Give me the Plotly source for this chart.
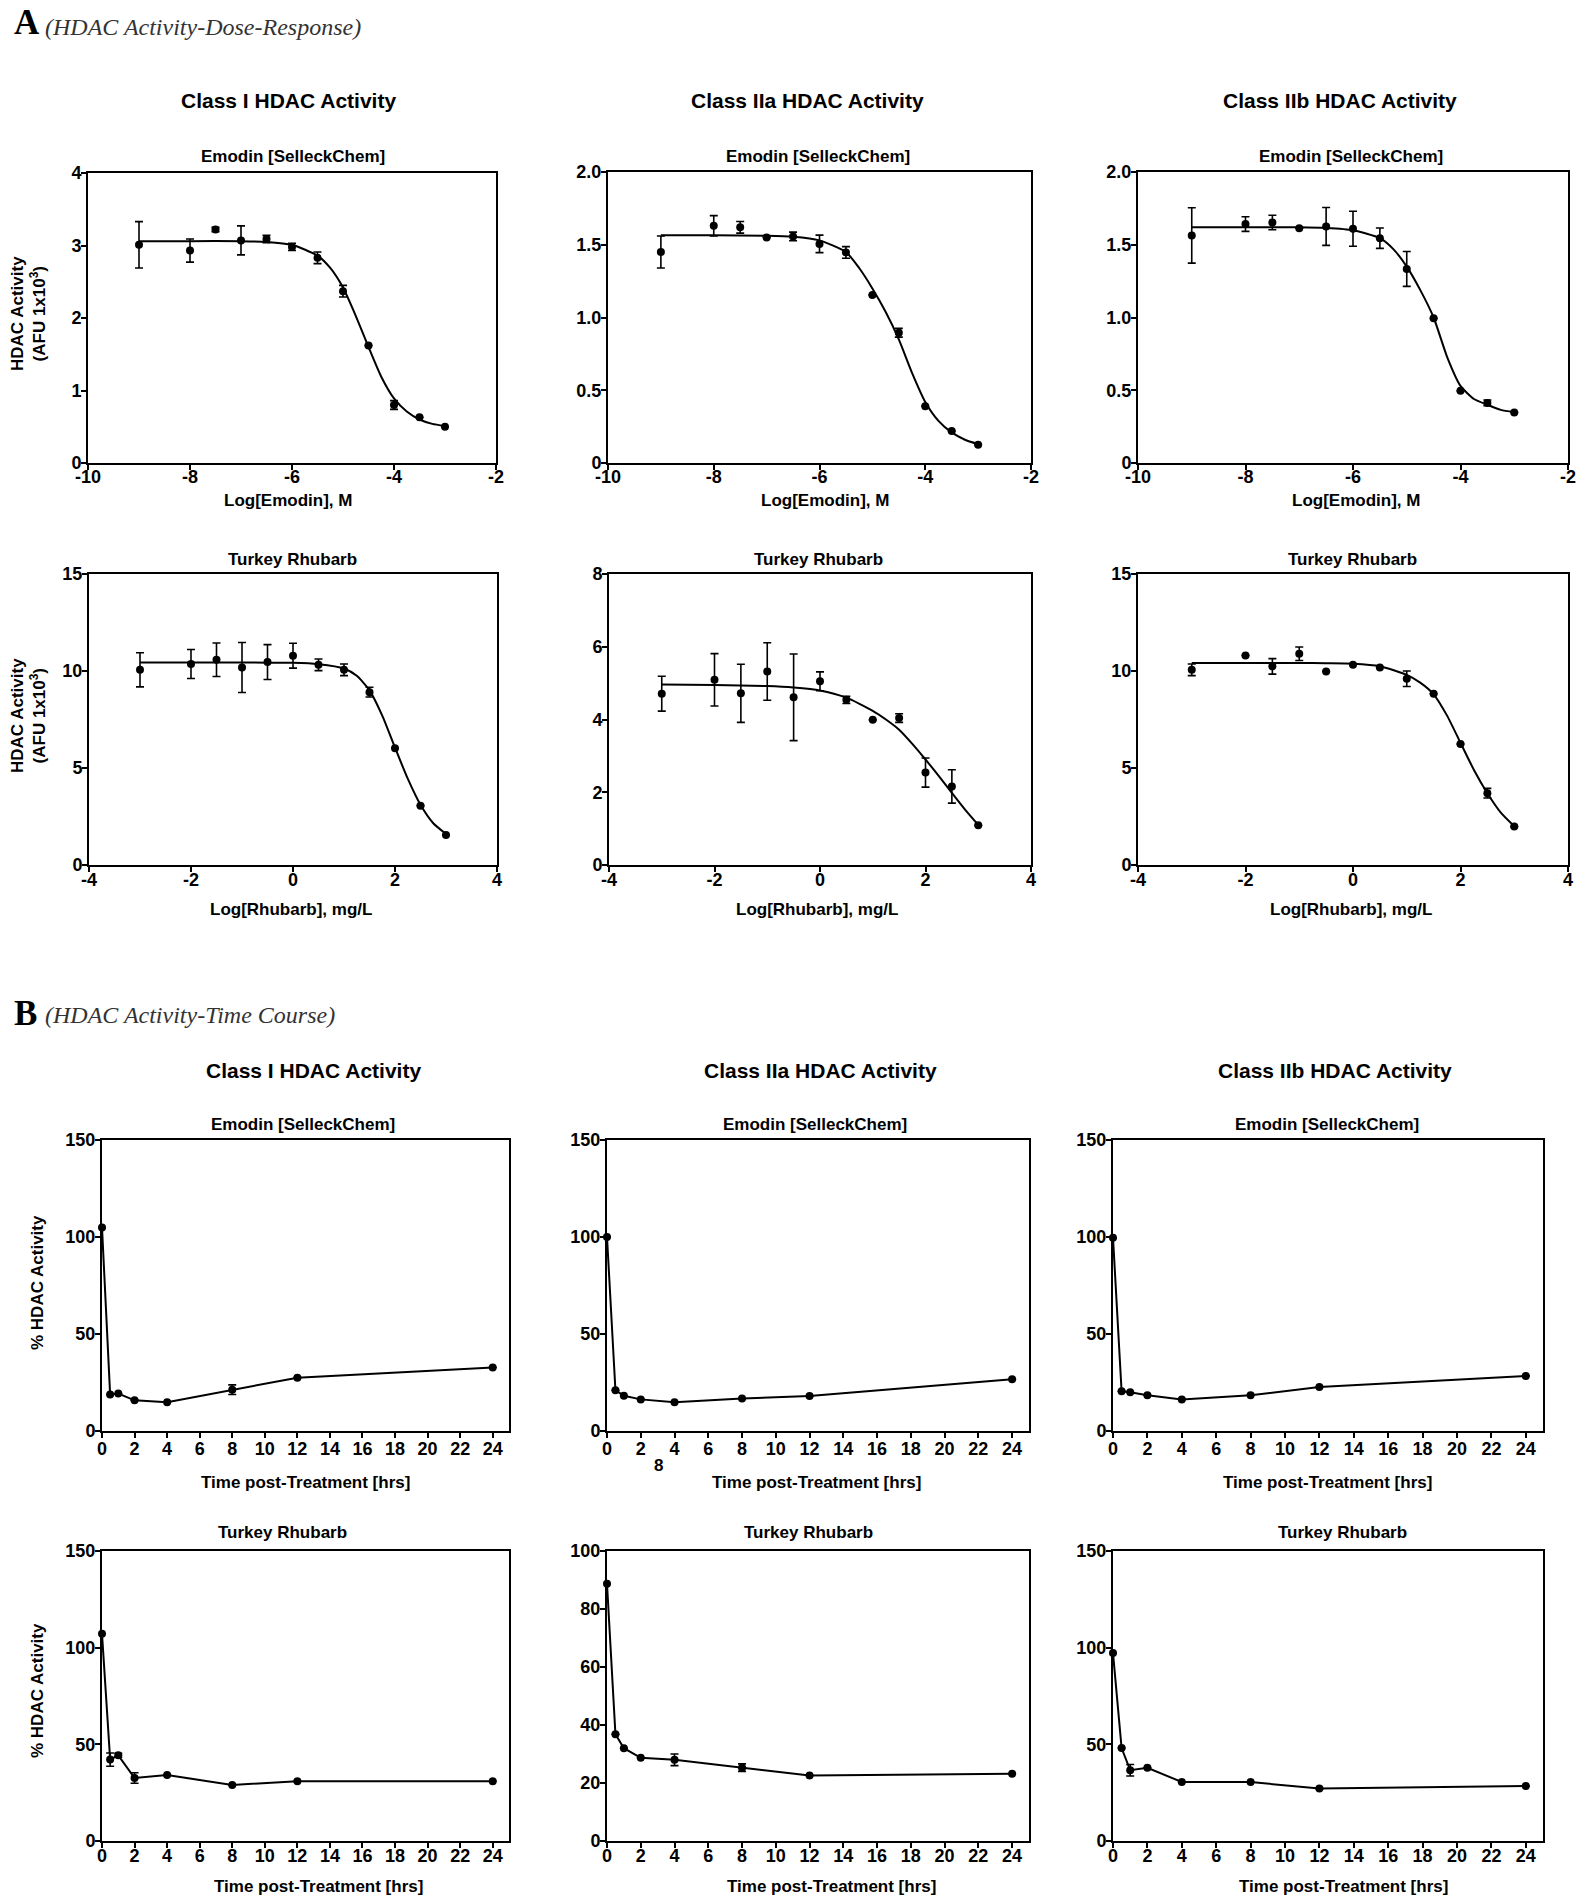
import plotly.graph_objects as go

W, H = 1590, 1903
OFF = 0  # page body margin is removed in post_script below

# ---------------- Section A : dose-response ----------------
emodin_logM = [-9, -8, -7.5, -7, -6.5, -6, -5.5, -5, -4.5, -4, -3.5, -3]
rhubarb_log = [-3, -2, -1.5, -1, -0.5, 0, 0.5, 1, 1.5, 2, 2.5, 3]

classI_emodin = [3.01, 2.93, 3.22, 3.07, 3.09, 2.98, 2.83, 2.37, 1.62, 0.80, 0.63, 0.50]
classI_emodin_err = [0.32, 0.16, 0.03, 0.20, 0.05, 0.05, 0.08, 0.08, 0.0, 0.06, 0.0, 0.0]
classIIa_emodin = [1.45, 1.63, 1.62, 1.55, 1.557, 1.506, 1.447, 1.155, 0.895, 0.39, 0.22, 0.126]
classIIa_emodin_err = [0.11, 0.07, 0.04, 0.0, 0.03, 0.06, 0.04, 0.0, 0.03, 0.0, 0.0, 0.0]
classIIb_emodin = [1.564, 1.642, 1.653, 1.614, 1.626, 1.61, 1.545, 1.334, 0.994, 0.496, 0.413, 0.347]
classIIb_emodin_err = [0.19, 0.05, 0.05, 0.0, 0.13, 0.12, 0.07, 0.12, 0.0, 0.0, 0.02, 0.0]

classI_rhubarb = [10.06, 10.36, 10.58, 10.18, 10.46, 10.79, 10.32, 10.06, 8.91, 6.02, 3.06, 1.55]
classI_rhubarb_err = [0.88, 0.75, 0.86, 1.29, 0.90, 0.64, 0.30, 0.30, 0.25, 0.0, 0.0, 0.0]
classIIa_rhubarb = [4.71, 5.09, 4.72, 5.32, 4.61, 5.05, 4.54, 3.99, 4.04, 2.54, 2.16, 1.09]
classIIa_rhubarb_err = [0.48, 0.72, 0.80, 0.79, 1.19, 0.26, 0.10, 0.0, 0.12, 0.40, 0.46, 0.0]
classIIb_rhubarb = [10.06, 10.80, 10.24, 10.89, 9.98, 10.32, 10.18, 9.60, 8.83, 6.24, 3.70, 1.98]
classIIb_rhubarb_err = [0.30, 0.0, 0.40, 0.35, 0.0, 0.0, 0.0, 0.40, 0.0, 0.0, 0.25, 0.0]

# fitted curves
fit_emodin_x = [-9, -8, -7, -6.5, -6, -5.5, -5.25, -5, -4.75, -4.5, -4.25, -4, -3.75, -3.5, -3.25, -3]
fit_classI_emodin = [3.06, 3.06, 3.06, 3.05, 3.01, 2.86, 2.69, 2.42, 2.03, 1.60, 1.19, 0.89, 0.71, 0.60, 0.54, 0.51]
fit_classIIa_emodin = [1.565, 1.565, 1.562, 1.555, 1.53, 1.45, 1.34, 1.20, 1.04, 0.85, 0.62, 0.42, 0.29, 0.21, 0.16, 0.13]
fit_classIIb_emodin = [1.62, 1.62, 1.62, 1.615, 1.60, 1.545, 1.47, 1.35, 1.19, 1.00, 0.73, 0.53, 0.44, 0.40, 0.365, 0.35]

fit_rhubarb_x = [-3, -2, -1, -0.5, 0, 0.5, 1, 1.25, 1.5, 1.75, 2, 2.25, 2.5, 2.75, 3]
fit_classI_rhubarb = [10.44, 10.44, 10.44, 10.43, 10.42, 10.35, 10.13, 9.75, 9.0, 7.7, 6.05, 4.45, 3.1, 2.15, 1.6]
fit_classIIa_rhubarb = [4.96, 4.95, 4.92, 4.88, 4.80, 4.60, 4.24, 4.0, 3.72, 3.33, 2.90, 2.45, 1.98, 1.52, 1.10]
fit_classIIb_rhubarb = [10.41, 10.41, 10.41, 10.40, 10.38, 10.25, 9.8, 9.4, 8.8, 7.7, 6.3, 4.9, 3.7, 2.7, 2.0]

# ---------------- Section B : time course ----------------
hours = [0, 0.5, 1, 2, 4, 8, 12, 24]
tc_classI_emodin = [104.9, 18.8, 19.3, 15.8, 14.8, 21.3, 27.5, 32.7]
tc_classI_emodin_err = [0, 0, 0, 0, 0, 2.5, 0, 0]
tc_classIIa_emodin = [100.0, 21.0, 18.2, 16.3, 14.8, 16.7, 18.1, 26.7]
tc_classIIa_emodin_err = [0, 0, 0, 0, 0, 0, 0, 0]
tc_classIIb_emodin = [99.6, 20.5, 20.0, 18.4, 16.2, 18.4, 22.7, 28.4]
tc_classIIb_emodin_err = [0, 0, 0, 0, 0, 0, 0, 0]
tc_classI_rhubarb = [107.2, 42.1, 44.3, 32.6, 34.1, 29.0, 30.9, 30.9]
tc_classI_rhubarb_err = [0, 3.4, 1.0, 2.7, 0, 0, 0, 0]
tc_classIIa_rhubarb = [88.7, 36.8, 32.0, 28.7, 28.0, 25.3, 22.6, 23.2]
tc_classIIa_rhubarb_err = [0, 0, 0, 0, 2.0, 1.3, 0, 0]
tc_classIIb_rhubarb = [97.2, 48.1, 36.6, 37.9, 30.5, 30.5, 27.1, 28.4]
tc_classIIb_rhubarb_err = [0, 0, 3.0, 0, 0, 0, 0, 0]

# tick labels
x_ticks_emodin = [-10, -8, -6, -4, -2]
x_ticks_rhubarb = [-4, -2, 0, 2, 4]
x_ticks_time = [0, 2, 4, 6, 8, 10, 12, 14, 16, 18, 20, 22, 24]
y_ticks_4 = [0, 1, 2, 3, 4]
y_ticks_2 = [0, 0.5, 1, 1.5, 2]
y_ticklabels_2 = ["0", "0.5", "1.0", "1.5", "2.0"]
y_ticks_15 = [0, 5, 10, 15]
y_ticks_8 = [0, 2, 4, 6, 8]
y_ticks_150 = [0, 50, 100, 150]
y_ticks_100 = [0, 20, 40, 60, 80, 100]

class_titles = ["Class I HDAC Activity", "Class IIa HDAC Activity", "Class IIb HDAC Activity"]
sub_emodin = "Emodin [SelleckChem]"
sub_rhubarb = "Turkey Rhubarb"
xt_emodin = "Log[Emodin], M"
xt_rhubarb = "Log[Rhubarb], mg/L"
xt_time = "Time post-Treatment [hrs]"
yt_afu = "HDAC Activity<br>(AFU 1x10<sup>3</sup>)"
yt_pct = "% HDAC Activity"

SANS = "Liberation Sans"
SERIF = "Liberation Serif"


def px(x):
    return (x - OFF) / W


def py(y):
    return 1 - (y - OFF) / H


def xd(a, b):
    return [px(a), px(b)]


def yd(top, bottom):
    return [py(bottom), py(top)]


def lab(vals):
    return [("%g" % v) for v in vals]


panels = [
    # section A
    dict(x=emodin_logM, y=classI_emodin, e=classI_emodin_err, fx=fit_emodin_x, fy=fit_classI_emodin,
         dx=(88, 496), dy=(173, 463), xr=[-10, -2], xt=x_ticks_emodin, yr=[0, 4],
         yt=y_ticks_4, ytt=lab(y_ticks_4), so=-9),
    dict(x=emodin_logM, y=classIIa_emodin, e=classIIa_emodin_err, fx=fit_emodin_x, fy=fit_classIIa_emodin,
         dx=(608, 1031), dy=(172, 463), xr=[-10, -2], xt=x_ticks_emodin, yr=[0, 2],
         yt=y_ticks_2, ytt=y_ticklabels_2, so=-9),
    dict(x=emodin_logM, y=classIIb_emodin, e=classIIb_emodin_err, fx=fit_emodin_x, fy=fit_classIIb_emodin,
         dx=(1138, 1568), dy=(172, 463), xr=[-10, -2], xt=x_ticks_emodin, yr=[0, 2],
         yt=y_ticks_2, ytt=y_ticklabels_2, so=-9),
    dict(x=rhubarb_log, y=classI_rhubarb, e=classI_rhubarb_err, fx=fit_rhubarb_x, fy=fit_classI_rhubarb,
         dx=(89, 497), dy=(574, 865), xr=[-4, 4], xt=x_ticks_rhubarb, yr=[0, 15],
         yt=y_ticks_15, ytt=lab(y_ticks_15), so=-8),
    dict(x=rhubarb_log, y=classIIa_rhubarb, e=classIIa_rhubarb_err, fx=fit_rhubarb_x, fy=fit_classIIa_rhubarb,
         dx=(609, 1031), dy=(574, 865), xr=[-4, 4], xt=x_ticks_rhubarb, yr=[0, 8],
         yt=y_ticks_8, ytt=lab(y_ticks_8), so=-8),
    dict(x=rhubarb_log, y=classIIb_rhubarb, e=classIIb_rhubarb_err, fx=fit_rhubarb_x, fy=fit_classIIb_rhubarb,
         dx=(1138, 1568), dy=(574, 865), xr=[-4, 4], xt=x_ticks_rhubarb, yr=[0, 15],
         yt=y_ticks_15, ytt=lab(y_ticks_15), so=-8),
    # section B
    dict(x=hours, y=tc_classI_emodin, e=tc_classI_emodin_err, dx=(102, 509), dy=(1140, 1431),
         xr=[0, 25], xt=x_ticks_time, yr=[0, 150], yt=y_ticks_150, ytt=lab(y_ticks_150), so=-5),
    dict(x=hours, y=tc_classIIa_emodin, e=tc_classIIa_emodin_err, dx=(607, 1029), dy=(1140, 1431),
         xr=[0, 25], xt=x_ticks_time, yr=[0, 150], yt=y_ticks_150, ytt=lab(y_ticks_150), so=-5),
    dict(x=hours, y=tc_classIIb_emodin, e=tc_classIIb_emodin_err, dx=(1113, 1543), dy=(1140, 1431),
         xr=[0, 25], xt=x_ticks_time, yr=[0, 150], yt=y_ticks_150, ytt=lab(y_ticks_150), so=-5),
    dict(x=hours, y=tc_classI_rhubarb, e=tc_classI_rhubarb_err, dx=(102, 509), dy=(1551, 1841),
         xr=[0, 25], xt=x_ticks_time, yr=[0, 150], yt=y_ticks_150, ytt=lab(y_ticks_150), so=-8),
    dict(x=hours, y=tc_classIIa_rhubarb, e=tc_classIIa_rhubarb_err, dx=(607, 1029), dy=(1551, 1841),
         xr=[0, 25], xt=x_ticks_time, yr=[0, 100], yt=y_ticks_100, ytt=lab(y_ticks_100), so=-8),
    dict(x=hours, y=tc_classIIb_rhubarb, e=tc_classIIb_rhubarb_err, dx=(1113, 1543), dy=(1551, 1841),
         xr=[0, 25], xt=x_ticks_time, yr=[0, 150], yt=y_ticks_150, ytt=lab(y_ticks_150), so=-8),
]

fig = go.Figure()
tickfont = dict(family=SANS, size=18, color="black", weight="bold")
layout_axes = {}

for i, p in enumerate(panels):
    n = i + 1
    xa = "x" if n == 1 else f"x{n}"
    ya = "y" if n == 1 else f"y{n}"
    err = dict(type="data", array=p["e"], visible=True, color="black", thickness=1.6, width=4)
    if "fx" in p:
        fig.add_trace(go.Scatter(x=p["fx"], y=p["fy"], mode="lines", xaxis=xa, yaxis=ya,
                                 line=dict(color="black", width=2, shape="spline", smoothing=0.6),
                                 showlegend=False, hoverinfo="skip"))
        fig.add_trace(go.Scatter(x=p["x"], y=p["y"], mode="markers", xaxis=xa, yaxis=ya,
                                 marker=dict(color="black", size=8), error_y=err,
                                 cliponaxis=False, showlegend=False))
    else:
        fig.add_trace(go.Scatter(x=p["x"], y=p["y"], mode="lines+markers", xaxis=xa, yaxis=ya,
                                 marker=dict(color="black", size=8), line=dict(color="black", width=2),
                                 error_y=err, cliponaxis=False, showlegend=False))
    common = dict(showline=True, mirror=True, linecolor="black", linewidth=2, ticks="outside",
                  ticklen=5, tickwidth=2, tickcolor="black", showgrid=False, zeroline=False,
                  tickfont=tickfont, fixedrange=True, automargin=False)
    layout_axes["xaxis" if n == 1 else f"xaxis{n}"] = dict(
        domain=xd(*p["dx"]), range=p["xr"], tickvals=p["xt"], ticktext=lab(p["xt"]),
        anchor=ya, ticklabelstandoff=p["so"], **common)
    layout_axes["yaxis" if n == 1 else f"yaxis{n}"] = dict(
        domain=yd(*p["dy"]), range=p["yr"], tickvals=p["yt"], ticktext=p["ytt"], anchor=xa,
        ticklabelstandoff=-4, **common)

annotations = []


def ann(text, x, y, size=17, family=SANS, bold=True, italic=False, xanchor="center", angle=0, color="black"):
    annotations.append(dict(
        text=text, x=px(x), y=py(y), xref="paper", yref="paper", showarrow=False,
        xanchor=xanchor, yanchor="middle", textangle=angle,
        font=dict(family=family, size=size, color=color, weight="bold" if bold else "normal",
                  style="italic" if italic else "normal")))


# panel headers
ann("A", 12, 23, size=35, family=SERIF, xanchor="left")
ann("(HDAC Activity-Dose-Response)", 43, 27, size=24, family=SERIF, bold=False, italic=True,
    xanchor="left", color="#333333")
ann("B", 12, 1013, size=35, family=SERIF, xanchor="left")
ann("(HDAC Activity-Time Course)", 43, 1015, size=24, family=SERIF, bold=False, italic=True,
    xanchor="left", color="#333333")

# class titles
for t, cx in zip(class_titles, [288, 807, 1340]):
    ann(t, cx, 101, size=21)
for t, cx in zip(class_titles, [313, 820, 1335]):
    ann(t, cx, 1070, size=21)

# subtitles
for cx in [293, 818, 1351]:
    ann(sub_emodin, cx, 156, size=17)
for cx in [292, 818, 1352]:
    ann(sub_rhubarb, cx, 560, size=17)
for cx in [303, 815, 1327]:
    ann(sub_emodin, cx, 1124, size=17)
for cx in [282, 808, 1342]:
    ann(sub_rhubarb, cx, 1532, size=17)

# x axis titles
for cx in [288, 825, 1356]:
    ann(xt_emodin, cx, 500, size=17)
for cx in [291, 817, 1351]:
    ann(xt_rhubarb, cx, 909, size=17)
for cx in [305, 816, 1327]:
    ann(xt_time, cx, 1482, size=17)
for cx in [318, 831, 1343]:
    ann(xt_time, cx, 1886, size=17)

# y axis titles
ann(yt_afu, 28, 314, size=17, angle=-90)
ann(yt_afu, 29, 716, size=17, angle=-90)
ann(yt_pct, 37, 1283, size=17, angle=-90)
ann(yt_pct, 37, 1691, size=17, angle=-90)

# stray label present in the original figure
ann("8", 658, 1465, size=17)

fig.update_layout(
    width=W, height=H, autosize=False,
    margin=dict(l=0, r=0, t=0, b=0, pad=0, autoexpand=False),
    paper_bgcolor="white", plot_bgcolor="white",
    showlegend=False, annotations=annotations, **layout_axes)

fig.write_html("out.html", config={"displayModeBar": False},
               post_script="document.body.style.margin='0px';")
